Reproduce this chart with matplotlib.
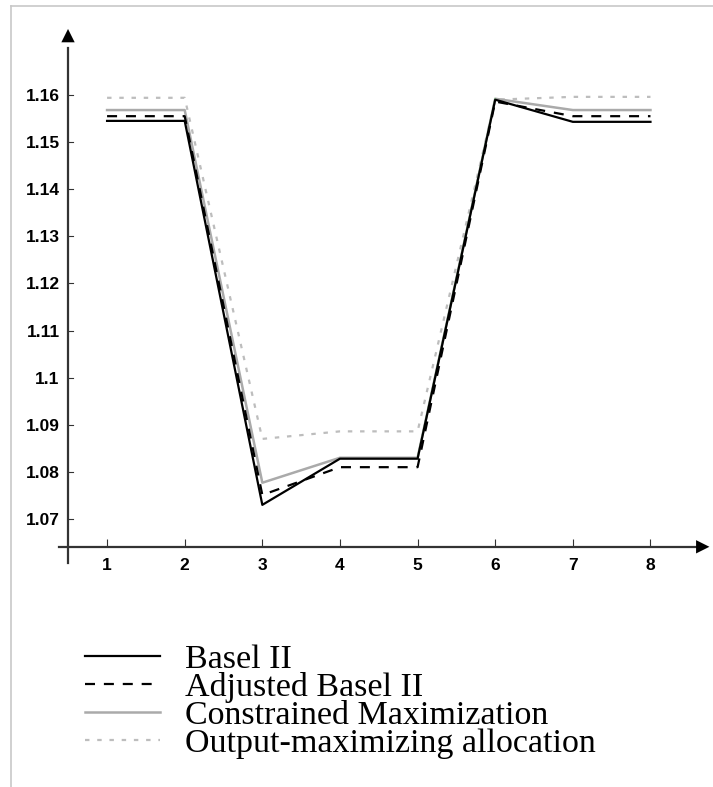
import matplotlib
matplotlib.use("Agg")
import matplotlib.pyplot as plt
from matplotlib.lines import Line2D

w = 7.13
h = 7.87
dpi = 100

periods = [1, 2, 3, 4, 5, 6, 7, 8]
basel = [1.1545, 1.1545, 1.0730, 1.0828, 1.0828, 1.1590, 1.1543, 1.1543]
adjusted = [1.1555, 1.1555, 1.0751, 1.0810, 1.0810, 1.1586, 1.1555, 1.1555]
constrained = [1.1568, 1.1568, 1.0777, 1.0830, 1.0830, 1.1592, 1.1568, 1.1568]
output_max = [1.1594, 1.1594, 1.0870, 1.0886, 1.0886, 1.1590, 1.1596, 1.1596]

y_ticks = [1.07, 1.08, 1.09, 1.10, 1.11, 1.12, 1.13, 1.14, 1.15, 1.16]
y_labels = ["1.07", "1.08", "1.09", "1.1", "1.11", "1.12", "1.13", "1.14", "1.15", "1.16"]
series_names = ["Basel II", "Adjusted Basel II", "Constrained Maximization", "Output-maximizing allocation"]

axis_color = "#333333"
tick_font = "Liberation Sans"
legend_font = "Liberation Serif"

fig = plt.figure(figsize=(w, h), dpi=dpi)
fig.patch.set_facecolor("white")
ax = fig.add_axes([0.0794, 0.2687, 0.9200, 0.7064])

l4, = ax.plot(periods, output_max, color="#bdbdbd", lw=1.6, dashes=(2, 3.5), solid_capstyle="butt")
l3, = ax.plot(periods, constrained, color="#aaaaaa", lw=1.8)
# greenish tint on the 5 -> 6 rise of the gray line
ax.plot(periods[4:6], constrained[4:6], color="#9ccf9c", lw=1.2)
l2, = ax.plot(periods, adjusted, color="black", lw=1.6, dashes=(4.5, 4))
l1, = ax.plot(periods, basel, color="black", lw=1.6)

ax.set_xlim(0.35, 8.8)
ax.set_ylim(1.058, 1.176)

# mathematica style crossing axes
x0 = 0.497
y0 = 1.0641
ax.spines["top"].set_visible(False)
ax.spines["right"].set_visible(False)
ax.spines["left"].set_position(("data", x0))
ax.spines["bottom"].set_position(("data", y0))
ax.spines["left"].set_bounds(1.0607, 1.1700)
ax.spines["bottom"].set_bounds(0.381, 8.62)
for s in ["left", "bottom"]:
	ax.spines[s].set_color(axis_color)
	ax.spines[s].set_linewidth(1.6)

ax.annotate("", xy=(x0, 1.1746), xytext=(x0, 1.1680),
			arrowprops=dict(arrowstyle="-|>", color="black", lw=0, mutation_scale=24))
ax.annotate("", xy=(8.795, y0), xytext=(8.58, y0),
			arrowprops=dict(arrowstyle="-|>", color="black", lw=0, mutation_scale=24))

ax.set_xticks(periods)
ax.set_xticklabels([str(p) for p in periods])
ax.set_yticks(y_ticks)
ax.set_yticklabels(y_labels)
ax.tick_params(axis="x", direction="in", length=6, width=0.8, color=axis_color, pad=8)
ax.tick_params(axis="y", direction="out", length=0, pad=6)
for lab in ax.get_xticklabels() + ax.get_yticklabels():
	lab.set_fontfamily(tick_font)
	lab.set_fontweight("bold")
	lab.set_fontsize(12.5)
# y ticks point into the plot
for t in y_ticks:
	ax.plot([x0, x0 + 0.06], [t, t], color=axis_color, lw=0.8, clip_on=False)

leg = fig.legend([l1, l2, l3, l4], series_names, loc="upper left",
				bbox_to_anchor=(0.119, 0.182), frameon=False,
				prop={"family": legend_font, "size": 24.5},
				handlelength=2.2, handletextpad=0.75, labelspacing=-0.08,
				borderpad=0, borderaxespad=0)

# thin page frame
fig.add_artist(Line2D([11 / 713, 11 / 713], [0, 1 - 6 / 787], color="#c8c8c8", lw=1.2))
fig.add_artist(Line2D([11 / 713, 1], [1 - 6 / 787, 1 - 6 / 787], color="#c8c8c8", lw=1.2))

plt.savefig("out.png", dpi=dpi, facecolor=fig.get_facecolor())
plt.close(fig)
